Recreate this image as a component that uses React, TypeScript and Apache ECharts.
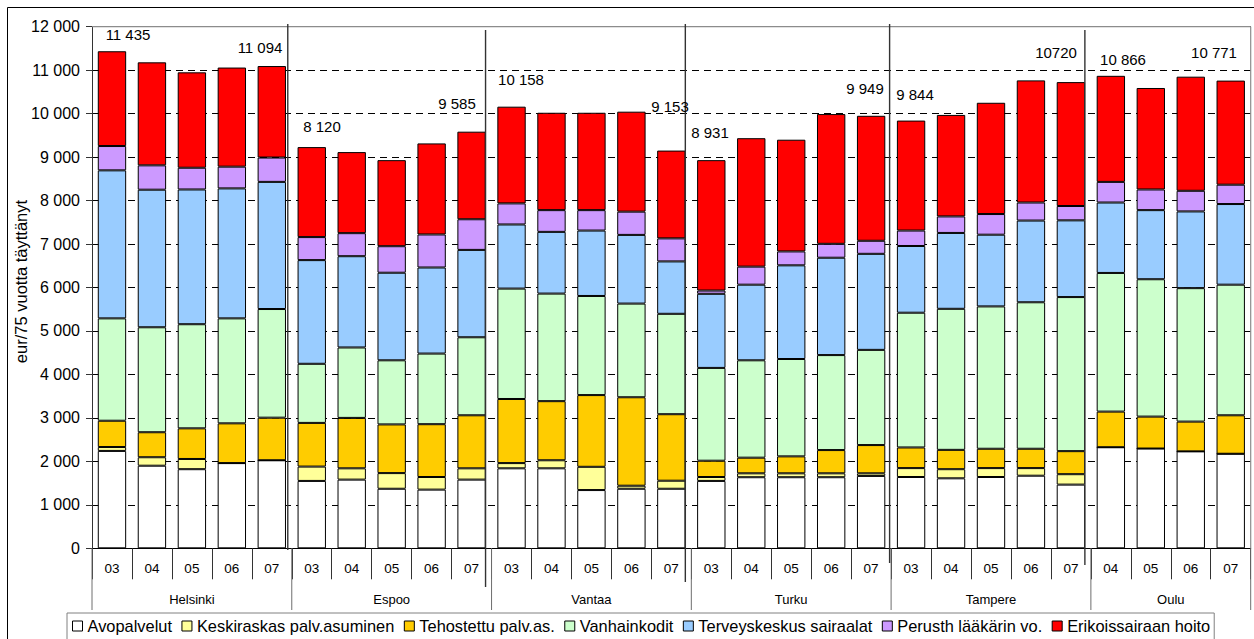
import React, { useEffect, useRef } from "react";
import * as echarts from "echarts";

const FONT = "'Liberation Sans', Arial, sans-serif";

const cities = ["Helsinki", "Espoo", "Vantaa", "Turku", "Tampere", "Oulu"];
const cityYears = [
  ["03", "04", "05", "06", "07"],
  ["03", "04", "05", "06", "07"],
  ["03", "04", "05", "06", "07"],
  ["03", "04", "05", "06", "07"],
  ["03", "04", "05", "06", "07"],
  ["04", "05", "06", "07"],
];
const yearLabels = cityYears.flat();

const seriesNames = [
  "Avopalvelut",
  "Keskiraskas palv.asuminen",
  "Tehostettu palv.as.",
  "Vanhainkodit",
  "Terveyskeskus sairaalat",
  "Perusth lääkärin vo.",
  "Erikoissairaan hoito",
];
const seriesColors = ["#FFFFFF", "#FFFF99", "#FFCC00", "#CCFFCC", "#99CCFF", "#CC99FF", "#FF0000"];

// order: Helsinki 03-07, Espoo 03-07, Vantaa 03-07, Turku 03-07, Tampere 03-07, Oulu 04-07
const avopalvelut = [2240, 1900, 1820, 1960, 2025, 1550, 1580, 1370, 1350, 1580, 1840, 1840, 1340, 1370, 1370, 1550, 1635, 1635, 1635, 1665, 1640, 1610, 1640, 1670, 1465, 2325, 2295, 2230, 2175];
const keskiraskas = [90, 195, 235, 0, 0, 330, 260, 360, 290, 260, 120, 185, 535, 70, 185, 90, 90, 90, 90, 60, 205, 210, 205, 175, 240, 0, 0, 0, 0];
const tehostettu = [605, 575, 705, 915, 980, 1005, 1160, 1120, 1215, 1220, 1475, 1360, 1650, 2035, 1530, 375, 360, 390, 535, 650, 475, 445, 445, 445, 530, 820, 735, 685, 885];
const vanhainkodit = [2355, 2415, 2395, 2415, 2500, 1360, 1620, 1475, 1625, 1795, 2540, 2475, 2280, 2155, 2310, 2135, 2240, 2240, 2185, 2190, 3100, 3245, 3275, 3370, 3545, 3190, 3160, 3070, 3005];
const tkSairaalat = [3405, 3165, 3100, 2990, 2925, 2385, 2100, 2015, 1980, 2010, 1475, 1420, 1505, 1580, 1205, 1705, 1740, 2155, 2240, 2210, 1535, 1745, 1650, 1880, 1765, 1620, 1590, 1765, 1855];
const perusth = [560, 560, 500, 500, 560, 530, 530, 610, 760, 705, 485, 500, 470, 535, 530, 75, 415, 320, 320, 300, 355, 380, 475, 415, 330, 475, 475, 475, 445];
const erikoissairaan = [2180, 2370, 2195, 2280, 2105, 2070, 1865, 1980, 2095, 2015, 2225, 2240, 2240, 2300, 2020, 3000, 2955, 2570, 2985, 2875, 2530, 2335, 2560, 2810, 2850, 2440, 2335, 2625, 2395];
const seriesData = [avopalvelut, keskiraskas, tehostettu, vanhainkodit, tkSairaalat, perusth, erikoissairaan];

// annotation texts as printed on the chart
const annotationTexts = ["11 435", "11 094", "8 120", "9 585", "10 158", "9 153", "8 931", "9 949", "9 844", "10720", "10 866", "10 771"];
// layout only (pixel centres of the text boxes)
const annotationLayout = [
  [128, 34], [260, 47], [322, 126], [457, 103], [521, 79], [670, 106],
  [710, 132], [865, 88], [915, 94], [1056, 52], [1123, 59], [1214, 52],
];
// hand-drawn dividers: offset from boundary, top, bottom
const dividerLayout = [
  [-4, 24, 550],
  [-6, 30, 587],
  [-6, 24, 582],
  [-1.5, 24, 563],
  [-6, 30, 565],
];

function fmt(v: number) {
  if (v === 0) return "0";
  const th = Math.floor(v / 1000);
  const rest = String(v % 1000).padStart(3, "0");
  return `${th} ${rest}`;
}

export default function App() {
  const ref = useRef<HTMLDivElement>(null);
  useEffect(() => {
    if (!ref.current) return;
    const chart = echarts.init(ref.current, null, { renderer: "svg" });
    const option: any = {
      animation: false,
      textStyle: { fontFamily: FONT },
      grid: { left: 92, right: 3.3, top: 26.7, bottom: 90.7, containLabel: false },
      legend: {
        left: 67,
        top: 613,
        orient: "horizontal",
        icon: "rect",
        itemWidth: 10,
        itemHeight: 10,
        itemGap: 9.5,
        borderColor: "#808080",
        borderWidth: 1,
        padding: [5, 4, 12, 5],
        textStyle: { fontSize: 16.4, color: "#000", fontFamily: FONT },
        itemStyle: { borderColor: "#000", borderWidth: 1 },
        data: seriesNames,
      },
      xAxis: {
        type: "category",
        data: yearLabels,
        axisLine: { show: true, lineStyle: { color: "#000", width: 1 } },
        axisTick: { show: true, interval: 0, length: 31, lineStyle: { color: "#333" } },
        axisLabel: { interval: 0, margin: 13, fontSize: 13.5, color: "#000", fontFamily: FONT },
      },
      yAxis: {
        type: "value",
        min: 0,
        max: 12000,
        interval: 1000,
        name: "eur/75 vuotta täyttänyt",
        nameLocation: "middle",
        nameGap: 63,
        nameMoveOverlap: false,
        nameTextStyle: { fontSize: 16.5, color: "#000", fontFamily: FONT, padding: [0, 0, 0, 12] },
        axisLine: { show: true, lineStyle: { color: "#333", width: 1 } },
        axisTick: { show: true, length: 6, lineStyle: { color: "#333" } },
        axisLabel: { formatter: fmt, fontSize: 16, color: "#000", margin: 12, fontFamily: FONT },
        splitLine: { show: true, lineStyle: { color: "#000", type: [7, 5], width: 1 } },
      },
      series: seriesNames.map((n, i) => ({
        type: "bar",
        name: n,
        stack: "total",
        data: seriesData[i],
        barCategoryGap: "29%",
        itemStyle: { color: seriesColors[i], borderColor: "#000", borderWidth: 1 },
      })),
    };
    chart.setOption(option);

    const c0 = chart.convertToPixel({ xAxisIndex: 0 }, 0) as number;
    const c1 = chart.convertToPixel({ xAxisIndex: 0 }, 1) as number;
    const band = c1 - c0;
    const bx = (i: number) => c0 - band / 2 + i * band;
    const y0 = chart.convertToPixel({ yAxisIndex: 0 }, 0) as number;
    const yTop = chart.convertToPixel({ yAxisIndex: 0 }, 12000) as number;
    const xLeft = bx(0);
    const xRight = bx(yearLabels.length);

    const starts: number[] = [0];
    cityYears.forEach((ys) => starts.push(starts[starts.length - 1] + ys.length));

    const graphics: any[] = [];
    graphics.push({ type: "rect", z: 100, shape: { x: 7.5, y: 7.5, width: 1260, height: 660 }, style: { fill: "none", stroke: "#000", lineWidth: 1 } });
    graphics.push({ type: "line", z: 100, shape: { x1: xLeft, y1: yTop, x2: xRight, y2: yTop }, style: { stroke: "#8c8c8c", lineWidth: 1.2 } });
    graphics.push({ type: "line", z: 100, shape: { x1: xRight, y1: yTop, x2: xRight, y2: y0 }, style: { stroke: "#8c8c8c", lineWidth: 1.2 } });
    starts.forEach((s) => {
      graphics.push({ type: "line", z: 100, shape: { x1: bx(s), y1: y0, x2: bx(s), y2: 610 }, style: { stroke: "#6e6e6e", lineWidth: 1 } });
    });
    cities.forEach((c, i) => {
      graphics.push({
        type: "text", z: 100, x: (bx(starts[i]) + bx(starts[i + 1])) / 2, y: 599.5,
        style: { text: c, fontSize: 13, fontFamily: FONT, fill: "#000", align: "center", verticalAlign: "middle" },
      });
    });
    dividerLayout.forEach((d, i) => {
      const x = bx(starts[i + 1]) + d[0];
      graphics.push({ type: "line", z: 100, shape: { x1: x, y1: d[1], x2: x, y2: d[2] }, style: { stroke: "#333", lineWidth: 1.4 } });
    });
    annotationTexts.forEach((t, i) => {
      graphics.push({
        type: "text", z: 100, x: annotationLayout[i][0], y: annotationLayout[i][1],
        style: { text: t, fontSize: 15, fontFamily: FONT, fill: "#000", align: "center", verticalAlign: "middle" },
      });
    });
    chart.setOption({ graphic: graphics });

    return () => chart.dispose();
  }, []);
  return <div ref={ref} style={{ position: "fixed", left: 0, top: 0, width: 1254, height: 639, background: "#fff" }} />;
}
